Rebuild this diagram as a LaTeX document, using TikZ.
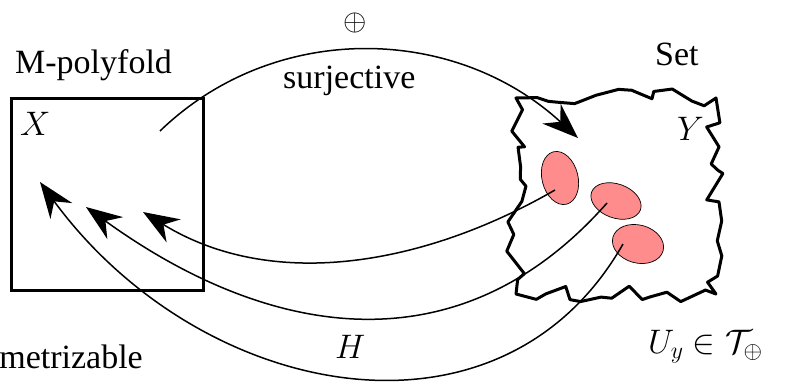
\RequirePackage{fix-cm}
\documentclass[tikz,border=0pt]{standalone}
\usepackage{fontspec}
\setmainfont{Liberation Serif}
\usetikzlibrary{arrows.meta,shapes.geometric,decorations.pathmorphing}
\definecolor{setpink}{HTML}{FF8C8C}
\tikzset{
  lbl/.style={inner sep=0pt, font=\fontsize{34}{40}\selectfont},
  openset/.style={ellipse, draw=black, line width=0.7pt, fill=setpink, inner sep=0pt},
  maparrow/.style={line width=1.5pt, -{Stealth[length=36pt,width=27pt,inset=12pt]}}
}
\begin{document}
\begin{tikzpicture}[x=1pt, y=-1pt]
    % page frame = reference size
    \useasboundingbox (0,0) rectangle (792,389);
    \node[draw, line width=3pt, minimum width=192pt, minimum height=192pt, anchor=north west,
          inner sep=0pt] (box) at (10,97) {};
    \node[lbl, anchor=base west] (polyname) at (15,73) {M-polyfold};
    \node[lbl, anchor=base west] (xname) at (20,135) {$X$};
    % jagged set
    \pgfmathsetseed{11}
    \draw[line width=3pt, line join=round,
          decorate, decoration={random steps, segment length=14pt, amplitude=11pt}]
      (516,98) -- (716,98) -- (716,294) -- (516,294) -- cycle;
    \node[lbl, anchor=base west] (setname) at (655,65) {Set};
    \node[lbl, anchor=base west] (yname) at (677,140) {$Y$};
    \node[openset, minimum width=36pt, minimum height=54pt, rotate=14] (u1) at (560,178) {};
    \node[openset, minimum width=52pt, minimum height=34pt, rotate=-20] (u2) at (616,201) {};
    \node[openset, minimum width=52pt, minimum height=38pt, rotate=-15] (u3) at (638,244) {};
    \coordinate (s1) at (555,190);
    \coordinate (s2) at (607,203);
    \coordinate (s3) at (623,244);
    \coordinate (t1) at (143,212);
    \coordinate (t2) at (86,207);
    \coordinate (t3) at (40,182);
    \coordinate (xs) at (160,131);
    \coordinate (yt) at (578,138);
    % maps
    \draw[maparrow] (xs) .. controls (275,20) and (455,25) .. (yt);
    \draw[maparrow] (s1) .. controls (425,265) and (273,292) .. (t1);
    \draw[maparrow] (s2) .. controls (457,373) and (266,337) .. (t2);
    \draw[maparrow] (s3) .. controls (500,460) and (200,400) .. (t3);
    \node[inner sep=0pt, font=\fontsize{30}{36}\selectfont] (plus) at (355,23) {$\oplus$};
    \node[lbl, anchor=base west] (surj) at (283,88) {surjective};
    \node[lbl, anchor=base west] (hname) at (335,358) {$H$};
    \node[lbl, anchor=base west] (topo) at (648,353) {$U_y\in\mathcal{T}_\oplus$};
    \node[lbl, anchor=base east] (metr) at (143,368) {metrizable};
  \end{tikzpicture}
\end{document}
